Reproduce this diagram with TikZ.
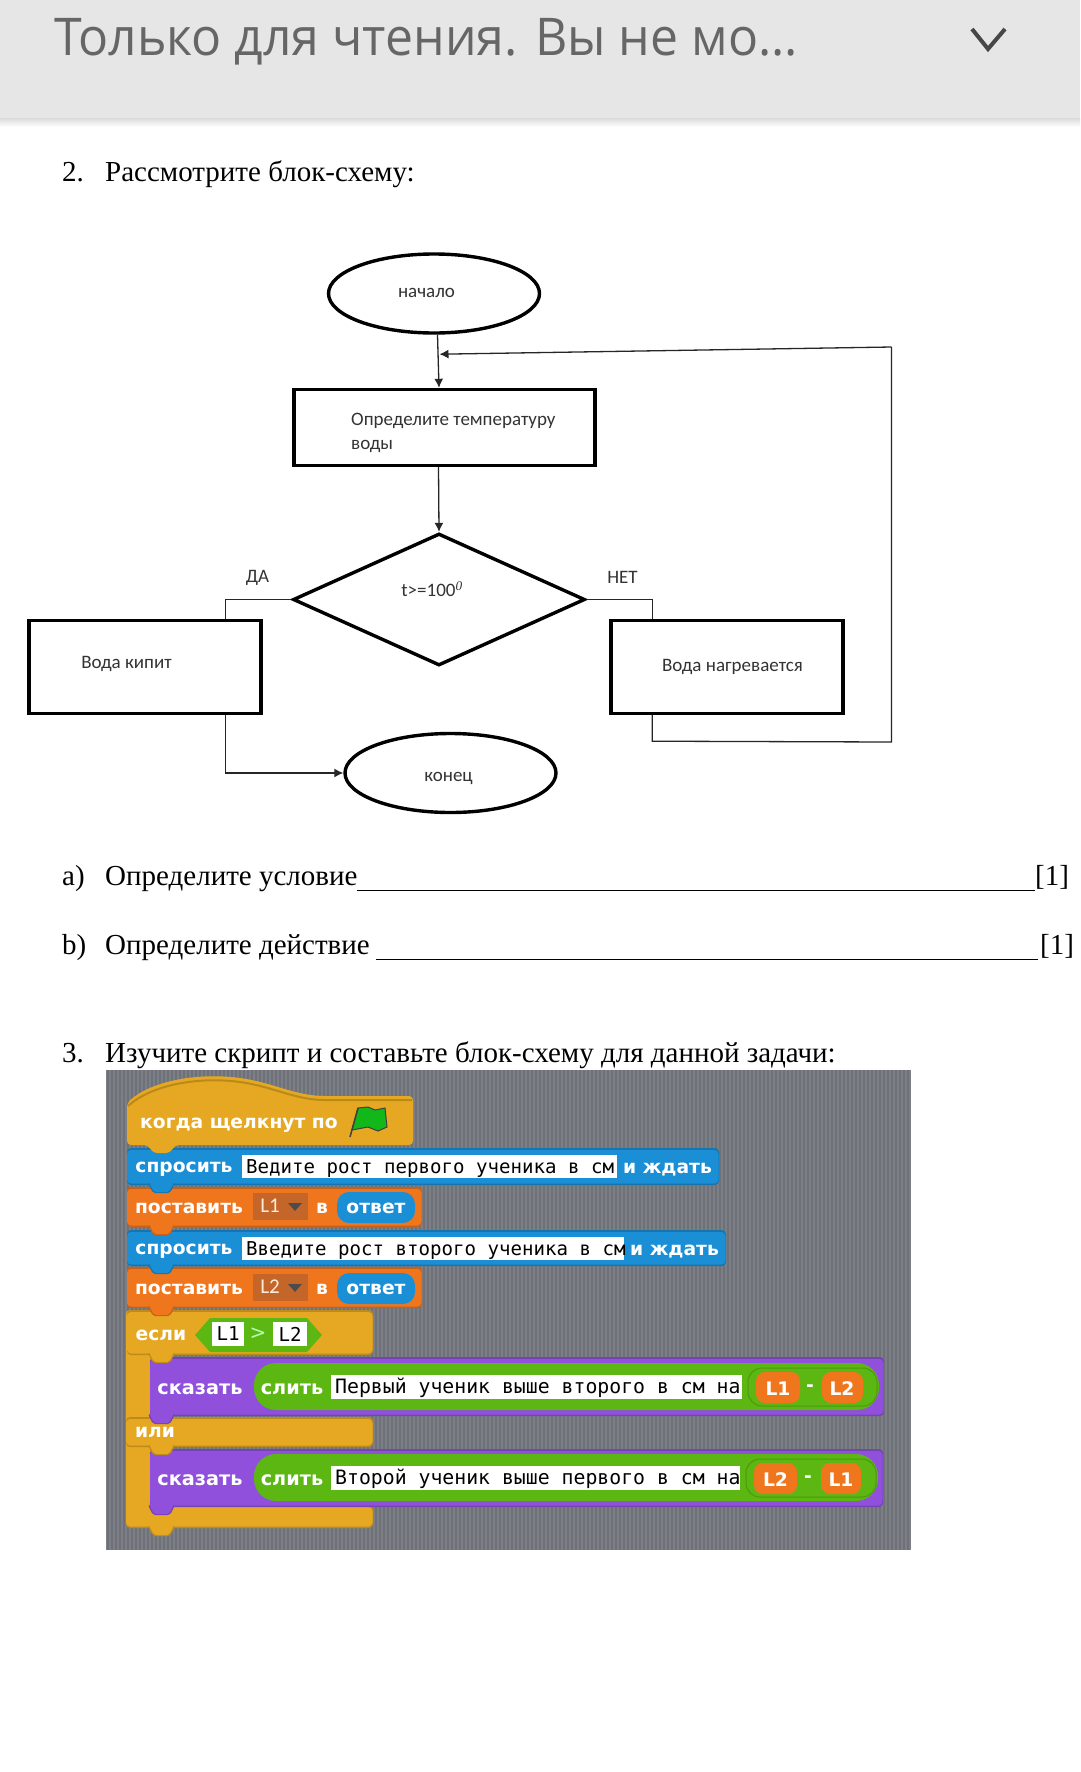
\documentclass[tikz,border=0pt]{standalone}
\usepackage{fontspec}
\usetikzlibrary{shapes.geometric,arrows.meta}
\setmainfont{Liberation Serif}
\newfontfamily\flowfont{Carlito}
\newfontfamily\headfont{Open Sans}[FakeStretch=0.96]
\newfontfamily\scrbold{DejaVu Sans}[BoldFont={DejaVu Sans Bold}]
\newfontfamily\scrmono{DejaVu Sans Mono}
\definecolor{hdr}{HTML}{E6E6E6}
\definecolor{hdrtext}{HTML}{666666}
\definecolor{panel}{HTML}{7C8086}
\definecolor{panelstripe}{HTML}{6E7278}
\definecolor{scrgold}{HTML}{E6A822}
\definecolor{scrgolddark}{HTML}{B98A18}
\definecolor{scrblue}{HTML}{1B8FD6}
\definecolor{scrorange}{HTML}{F0761E}
\definecolor{scrdrop}{HTML}{C4662A}
\definecolor{scrpurple}{HTML}{9050DC}
\definecolor{scrgreen}{HTML}{5CB712}
\definecolor{scrgreendark}{HTML}{4A9A10}
\definecolor{scrflag}{HTML}{12B81A}
\newcommand{\fsz}[1]{\fontsize{#1}{#1}\selectfont}
\newcommand{\scrblk}[5]{%
  \fill[#1!82!black,rounded corners=4] (#2,#3) rectangle (#4,#5);
  \fill[#1,rounded corners=4] (#2,#3+2) rectangle (#4-0.5,#5-1.5);
  \fill[#1!82!black,rounded corners=2] (148,#5-2) -- (153,#5+8) -- (170,#5+8) -- (175,#5-2) -- cycle;
  \fill[#1,rounded corners=2] (149,#5-3) -- (154,#5+7) -- (169,#5+7) -- (174,#5-3) -- cycle;}
\tikzset{
  bodytext/.style={font=\fsz{29},anchor=base west,inner sep=0,text=black},
  flowtext/.style={font=\flowfont\fsz{19},inner sep=0,text=black!80,yshift=-2},
  termbox/.style={draw=black,line width=3.4,ellipse,minimum width=211,minimum height=79,inner sep=0},
  stepbox/.style={draw=black,line width=3.4,rectangle,inner sep=0},
  decbox/.style={draw=black,line width=3.4,diamond,inner sep=0,minimum width=292,minimum height=132},
  link/.style={draw=black!85,line width=1.3},
  arrowlink/.style={link,-{Latex[length=9,width=9]}},
  scrlabel/.style={font=\scrbold\bfseries\fsz{18.7},text=white,inner sep=0,yshift=-2.5},
  scrsay/.style={font=\scrbold\bfseries\fsz{19.3},text=white,inner sep=0,yshift=-2},
  scrfield/.style={font=\scrmono\fsz{19.1},text=black,inner sep=0,anchor=west},
  scrsayfield/.style={font=\scrmono\fsz{19.8},text=black,inner sep=0,anchor=west},
}
\begin{document}
\begin{tikzpicture}[x=1pt,y=-1pt]
\useasboundingbox (0,0) rectangle (1080,1772);
\fill[white] (0,0) rectangle (1080,1772);
% header
\shade[top color=black!14,bottom color=white] (0,118) rectangle (1080,127);
\fill[hdr] (0,0) rectangle (1080,118);
\node[font=\headfont\fsz{52},text=hdrtext,anchor=base west,inner sep=0] (hdrtitle) at (54,55) {Только для чтения. Вы не мо...};
\draw[hdrtext!70!black,line width=4] (972,29) -- (988,49) -- (1005,29);
% body text
\node[bodytext] (n2) at (62,181) {2.};
\node[bodytext] (q2) at (105,181) {Рассмотрите блок-схему:};
\node[bodytext] (na) at (62,885) {a)};
\node[bodytext] (qa) at (105,885) {Определите условие};
\node[bodytext] (ua) at (1035,885) {[1]};
\draw[black,line width=1] (357,890) -- (1035,890);
\node[bodytext] (nb) at (62,954) {b)};
\node[bodytext] (qb) at (105,954) {Определите действие};
\node[bodytext] (ub) at (1040,954) {[1]};
\draw[black,line width=1] (376,959) -- (1038,959);
\node[bodytext] (n3) at (62,1062) {3.};
\node[bodytext] (q3) at (105,1062) {Изучите скрипт и составьте блок-схему для данной задачи:};
% flowchart
\node[termbox] (start) at (434,293.5) {};
\node[flowtext] (tstart) at (426.5,291) {начало};
\node[stepbox,minimum width=301,minimum height=76] (proc) at (444.5,427.5) {};
\node[flowtext,anchor=west] (tproc1) at (351,419) {Определите температуру};
\node[flowtext,anchor=west] (tproc2) at (351,444) {воды};
\node[decbox] (dec) at (439,599.5) {};
\node[flowtext] (tdec) at (432,587) {t>=100$^{\mathit{0}}$};
\node[flowtext] (tyes) at (257.5,576) {ДА};
\node[flowtext] (tno) at (622.5,575) {НЕТ};
\node[stepbox,minimum width=232,minimum height=93] (boil) at (145,667) {};
\node[flowtext] (tboil) at (126.5,662) {Вода кипит};
\node[stepbox,minimum width=232,minimum height=93] (heat) at (727,667) {};
\node[flowtext] (theat) at (732.5,665) {Вода нагревается};
\node[termbox] (finish) at (450.5,773) {};
\node[flowtext] (tfinish) at (448.5,776) {конец};
\coordinate (backlow) at (891.5,742);
\coordinate (backhigh) at (891.5,347);
\draw[arrowlink] ([xshift=3.5]start.south) -- ([xshift=-5.5]proc.north);
\draw[arrowlink] ([xshift=-6]proc.south) -- (dec.north);
\draw[link] (dec.west) -| ([xshift=198.5]boil.north west);
\draw[arrowlink] ([xshift=198.5]boil.south west) |- (finish.west);
\draw[link] (dec.east) -| ([xshift=43]heat.north west);
\draw[link] ([xshift=43]heat.south west) -- ++(0,26) -- (backlow) -- (backhigh);
\draw[arrowlink] (backhigh) -- ([xshift=5.5,yshift=-19.5]start.south);
% scratch panel
\fill[panel] (106,1070) rectangle (911,1550);
\foreach \sx in {108,112,...,908} \draw[panelstripe,line width=1.6] (\sx,1070) -- (\sx,1550);
% bottom-up blocks
\scrblk{scrgold}{126}{1505}{373}{1528}
\fill[scrgold,rounded corners=4] (126,1310) rectangle (152,1520);
\scrblk{scrpurple}{150}{1449}{883}{1507}
\scrblk{scrgold}{126}{1417}{373}{1447}
\scrblk{scrpurple}{150}{1357}{884}{1416}
\scrblk{scrgold}{127}{1310}{373}{1355}
\scrblk{scrorange}{127}{1267}{422}{1308}
\scrblk{scrblue}{127}{1230}{726}{1266}
\scrblk{scrorange}{127}{1187}{422}{1227}
\scrblk{scrblue}{127}{1148}{719}{1185}
% hat
\fill[scrgold] (127,1145) [rounded corners=4] -- (127,1103) [sharp corners] .. controls (150,1082) and (195,1072) .. (240,1078) .. controls (275,1083) and (295,1096) .. (325,1096) -- (408,1096) [rounded corners=4] -- (413,1096) -- (413,1145) -- (175,1145) -- (170,1153) -- (153,1153) -- (148,1145) -- cycle;
\draw[scrgolddark,line width=2] (128,1106) .. controls (150,1086) and (195,1076) .. (240,1082) .. controls (275,1087) and (295,1100) .. (325,1100) -- (412,1100);
\node[scrlabel] (lhat) at (239,1123) {когда щелкнут по};
\fill[scrflag,draw=black!75,line width=1] (358,1108) -- (368,1107) -- (375,1110) -- (385,1108) -- (387,1127) -- (378,1131) -- (368,1127) -- (352,1130) -- cycle;
\draw[black!75,line width=1.5] (358,1108) -- (350,1137);
% ask 1
\fill[white] (242,1155) rectangle (617,1178);
\node[scrlabel] (lask1) at (184,1167) {спросить};
\node[scrfield] (fask1) at (246,1169) {Ведите рост первого ученика в см};
\node[scrlabel] (lwait1) at (667.5,1167) {и ждать};
% set 1
\node[scrlabel] (lset1) at (189,1206) {поставить};
\fill[scrdrop] (253,1193) rectangle (308,1220);
\node[font=\flowfont\fsz{21},text=white!85!orange,inner sep=0] (v1) at (270,1206) {L1};
\fill[black!70] (288,1203) -- (302,1203) -- (295,1211) -- cycle;
\node[scrlabel] (lin1) at (322,1206) {в};
\fill[scrblue,rounded corners=12] (337,1192) rectangle (415,1223);
\node[scrlabel] (ans1) at (376,1206) {ответ};
% ask 2
\fill[white] (242,1237) rectangle (624,1260);
\node[scrlabel] (lask2) at (184,1249) {спросить};
\node[scrfield] (fask2) at (246,1251) {Введите рост второго ученика в см};
\node[scrlabel] (lwait2) at (674.5,1249) {и ждать};
% set 2
\node[scrlabel] (lset2) at (189,1287) {поставить};
\fill[scrdrop] (253,1274) rectangle (308,1301);
\node[font=\flowfont\fsz{21},text=white!85!orange,inner sep=0] (v2) at (270,1287) {L2};
\fill[black!70] (288,1284) -- (302,1284) -- (295,1292) -- cycle;
\node[scrlabel] (lin2) at (322,1287) {в};
\fill[scrblue,rounded corners=12] (337,1273) rectangle (415,1304);
\node[scrlabel] (ans2) at (376,1287) {ответ};
% if
\node[scrlabel] (lif) at (161,1333) {если};
\fill[scrgreen] (195,1335) -- (210,1318) -- (307,1318) -- (322,1335) -- (307,1352) -- (210,1352) -- cycle;
\fill[white] (212,1322) rectangle (244,1346);
\fill[white] (273,1322) rectangle (307,1346);
\node[scrfield,anchor=center] (c1) at (228,1334) {L1};
\node[font=\scrbold\fsz{20},text=white!70!green,inner sep=0] (cgt) at (258,1334) {>};
\node[scrfield,anchor=center] (c2) at (290,1334) {L2};
% say 1
\fill[scrgreen,rounded corners=22] (254,1363) rectangle (879,1410);
\node[scrsay] (lsay1) at (200,1387) {сказать};
\node[scrsay] (lj1) at (292,1387) {слить};
\fill[white] (331,1375) rectangle (742,1399);
\node[scrsayfield] (fs1) at (335,1388) {Первый ученик выше второго в см на};
\draw[scrgreendark,line width=1,rounded corners=14] (748,1368) rectangle (877,1406);
\fill[scrorange,rounded corners=9] (756,1372) rectangle (800,1403);
\fill[scrorange,rounded corners=9] (822,1372) rectangle (863,1403);
\node[scrlabel] (a1) at (778,1386) {L1};
\node[scrlabel] (am1) at (810,1386) {-};
\node[scrlabel] (a2) at (842,1386) {L2};
% else
\node[scrlabel] (lelse) at (155,1429.5) {или};
% say 2
\fill[scrgreen,rounded corners=22] (254,1454) rectangle (878,1501);
\node[scrsay] (lsay2) at (200,1478) {сказать};
\node[scrsay] (lj2) at (292,1478) {слить};
\fill[white] (331,1466) rectangle (740,1490);
\node[scrsayfield] (fs2) at (335,1479) {Второй ученик выше первого в см на};
\draw[scrgreendark,line width=1,rounded corners=14] (746,1459) rectangle (876,1497);
\fill[scrorange,rounded corners=9] (754,1463) rectangle (797,1494);
\fill[scrorange,rounded corners=9] (821,1463) rectangle (861,1494);
\node[scrlabel] (b1) at (775.5,1477) {L2};
\node[scrlabel] (bm1) at (808,1477) {-};
\node[scrlabel] (b2) at (841,1477) {L1};
\end{tikzpicture}
\end{document}
